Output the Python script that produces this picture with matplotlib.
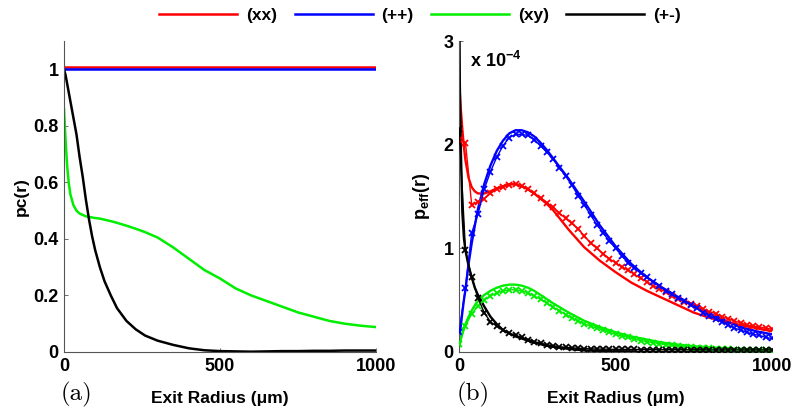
import matplotlib
matplotlib.use("Agg")
import matplotlib.pyplot as plt

plt.rcParams["font.family"] = ["Liberation Sans", "DejaVu Sans"]
plt.rcParams["font.weight"] = "bold"
plt.rcParams["mathtext.fontset"] = "custom"
plt.rcParams["mathtext.rm"] = "Liberation Sans:bold"
plt.rcParams["mathtext.bf"] = "Liberation Sans:bold"
plt.rcParams["mathtext.it"] = "Liberation Sans:bold"

# ── (a) pc(r) ────────────────────────────────────────────────────────────────
r_pc = [0, 5, 10, 15, 20, 30, 40, 50, 60, 70, 80, 90, 100, 115, 130, 150, 170,
        200, 230, 260, 300, 350, 400, 450, 500, 550, 600, 650, 700, 750, 800,
        850, 900, 950, 1000]
pc_xx = [1.007] * len(r_pc)
pc_pp = [1.0] * len(r_pc)
pc_xy = [0.86, 0.75, 0.66, 0.60, 0.56, 0.52, 0.50, 0.49, 0.485, 0.48, 0.478,
         0.476, 0.474, 0.472, 0.468, 0.463, 0.457, 0.447, 0.436, 0.424, 0.405,
         0.37, 0.33, 0.29, 0.26, 0.225, 0.20, 0.18, 0.16, 0.14, 0.125, 0.11,
         0.10, 0.093, 0.088]
pc_pm = [1.0, 0.98, 0.95, 0.92, 0.89, 0.83, 0.77, 0.69, 0.62, 0.54, 0.47, 0.41,
         0.36, 0.30, 0.25, 0.20, 0.155, 0.11, 0.08, 0.058, 0.04, 0.025, 0.013,
         0.006, 0.003, 0.002, 0.001, 0.002, 0.003, 0.003, 0.004, 0.004, 0.005,
         0.005, 0.005]

# ── (b) p_eff(r), in units of 1e-4 ──────────────────────────────────────────
r_fit = [0, 2, 5, 10, 15, 20, 30, 40, 50, 60, 80, 100, 120, 140, 160, 180, 200,
         220, 240, 260, 280, 300, 350, 400, 450, 500, 550, 600, 650, 700, 750,
         800, 850, 900, 950, 1000]
fit_xx = [2.55, 2.50, 2.35, 2.15, 1.98, 1.85, 1.68, 1.59, 1.55, 1.53, 1.53,
          1.55, 1.58, 1.60, 1.62, 1.62, 1.60, 1.57, 1.53, 1.48, 1.43, 1.37,
          1.18, 1.01, 0.88, 0.77, 0.67, 0.59, 0.52, 0.45, 0.38, 0.33, 0.29,
          0.26, 0.23, 0.20]
fit_pp = [0.15, 0.19, 0.25, 0.38, 0.50, 0.60, 0.85, 1.05, 1.22, 1.38, 1.62,
          1.80, 1.94, 2.04, 2.11, 2.14, 2.14, 2.12, 2.08, 2.02, 1.95, 1.87,
          1.67, 1.45, 1.22, 1.02, 0.85, 0.72, 0.62, 0.53, 0.45, 0.37, 0.30,
          0.24, 0.20, 0.17]
fit_xy = [0.05, 0.08, 0.12, 0.18, 0.23, 0.27, 0.34, 0.40, 0.45, 0.49, 0.55,
          0.59, 0.62, 0.64, 0.65, 0.65, 0.64, 0.62, 0.59, 0.55, 0.51, 0.47,
          0.38, 0.30, 0.24, 0.19, 0.15, 0.12, 0.09, 0.07, 0.055, 0.045, 0.035,
          0.03, 0.025, 0.02]
fit_pm = [3.6, 2.6, 2.0, 1.35, 1.1, 0.98, 0.83, 0.72, 0.62, 0.55, 0.44, 0.34,
          0.27, 0.21, 0.18, 0.15, 0.13, 0.11, 0.09, 0.075, 0.06, 0.05, 0.03,
          0.015, 0.01, 0.005, 0.002, 0.0, 0.0, 0.0, 0.0, 0.0, 0.0, 0.0, 0.0,
          0.0]

r_sim = [0, 20, 40, 60, 80, 100, 120, 140, 160, 180, 200, 220, 240, 260, 280,
         300, 320, 340, 360, 380, 400, 420, 440, 460, 480, 500, 520, 540, 560,
         580, 600, 620, 640, 660, 680, 700, 720, 740, 760, 780, 800, 820, 840,
         860, 880, 900, 920, 940, 960, 980, 1000]
sim_xx = [2.05, 2.02, 1.42, 1.45, 1.48, 1.53, 1.57, 1.59, 1.61, 1.62, 1.60,
          1.57, 1.53, 1.49, 1.44, 1.40, 1.34, 1.29, 1.24, 1.19, 1.12, 1.05,
          1.00, 0.95, 0.90, 0.86, 0.82, 0.79, 0.75, 0.71, 0.68, 0.64, 0.61,
          0.58, 0.54, 0.51, 0.48, 0.46, 0.44, 0.41, 0.39, 0.37, 0.34, 0.32,
          0.30, 0.28, 0.26, 0.25, 0.24, 0.23, 0.22]
sim_pp = [0.19, 0.62, 1.15, 1.33, 1.57, 1.74, 1.88, 1.99, 2.07, 2.10, 2.10,
          2.09, 2.05, 1.99, 1.93, 1.86, 1.78, 1.70, 1.61, 1.51, 1.42, 1.32,
          1.23, 1.15, 1.07, 1.00, 0.93, 0.86, 0.81, 0.76, 0.72, 0.68, 0.64,
          0.59, 0.56, 0.52, 0.49, 0.45, 0.42, 0.38, 0.35, 0.32, 0.29, 0.26,
          0.23, 0.21, 0.19, 0.17, 0.16, 0.14, 0.13]
sim_xy = [0.08, 0.25, 0.37, 0.44, 0.50, 0.54, 0.57, 0.59, 0.60, 0.60, 0.59,
          0.57, 0.54, 0.51, 0.47, 0.43, 0.40, 0.36, 0.33, 0.30, 0.27, 0.25,
          0.23, 0.21, 0.19, 0.17, 0.155, 0.14, 0.125, 0.11, 0.10, 0.09, 0.08,
          0.07, 0.065, 0.058, 0.052, 0.047, 0.042, 0.038, 0.034, 0.031, 0.028,
          0.025, 0.023, 0.021, 0.019, 0.018, 0.016, 0.015, 0.014]
sim_pm = [2.15, 0.98, 0.72, 0.52, 0.38, 0.29, 0.25, 0.21, 0.18, 0.16, 0.14,
          0.12, 0.10, 0.085, 0.07, 0.06, 0.05, 0.045, 0.04, 0.035, 0.032,
          0.03, 0.028, 0.027, 0.026, 0.025, 0.025, 0.024, 0.024, 0.023, 0.023,
          0.023, 0.022, 0.022, 0.022, 0.022, 0.021, 0.021, 0.021, 0.021, 0.02,
          0.02, 0.02, 0.02, 0.02, 0.02, 0.02, 0.02, 0.02, 0.02, 0.02]

x_ticks = [0, 500, 1000]
x_ticklabels = ["0", "500", "1000"]
a_yticks = [0, 0.2, 0.4, 0.6, 0.8, 1]
a_yticklabels = ["0", "0.2", "0.4", "0.6", "0.8", "1"]
b_yticks = [0, 1, 2, 3]
b_yticklabels = ["0", "1", "2", "3"]

labels = ["(xx)", "(++)", "(xy)", "(+-)"]
colors = ["#ff0000", "#0000ff", "#00ee00", "#000000"]

fig = plt.figure(figsize=(8, 4.2), dpi=100)
ax_a = fig.add_axes([0.080, 0.162, 0.390, 0.740])
ax_b = fig.add_axes([0.574, 0.162, 0.391, 0.740])

handles = []
for ys, c, lab in zip([pc_xx, pc_pp, pc_xy, pc_pm], colors, labels):
    h, = ax_a.plot(r_pc, ys, color=c, lw=1.8, label=lab)
    handles.append(h)

for fit, sim, c in zip([fit_xx, fit_pp, fit_xy, fit_pm],
                       [sim_xx, sim_pp, sim_xy, sim_pm], colors):
    ax_b.plot(r_fit, fit, color=c, lw=1.7, zorder=2)
    ax_b.plot(r_sim, sim, color=c, lw=1.0, marker="x", ms=5, mew=1.3, zorder=3)

tick_font = dict(fontsize=13, fontweight="bold", family="Liberation Sans")

ax_a.set_xlim(0, 1000)
ax_a.set_ylim(0, 1.1)
ax_a.set_yticks(a_yticks, labels=a_yticklabels, **tick_font)
ax_a.set_ylabel("pc(r)", fontsize=12.5, fontweight="bold", labelpad=3)

ax_b.set_xlim(0, 1000)
ax_b.set_ylim(0, 3)
ax_b.set_yticks(b_yticks, labels=b_yticklabels, **tick_font)
ax_b.set_ylabel(r"$\mathbf{p_{eff}(r)}$", fontsize=13, labelpad=8)
ax_b.text(0.035, 0.97, r"$\mathbf{x\ 10^{-4}}$", transform=ax_b.transAxes,
          ha="left", va="top", fontsize=13)

for ax in (ax_a, ax_b):
    ax.set_xticks(x_ticks, labels=x_ticklabels, **tick_font)
    ax.set_xlabel("Exit Radius (\u03bcm)", fontsize=12.5, fontweight="bold",
                  labelpad=12)
    ax.spines["top"].set_visible(False)
    ax.spines["right"].set_visible(False)
    for s in ("left", "bottom"):
        ax.spines[s].set_color("#555555")
        ax.spines[s].set_linewidth(0.8)
    ax.tick_params(direction="in", length=3, width=0.6,
                   colors="#555555", labelcolor="black", pad=4)

fig.text(0.076, 0.062, "(a)", family="cmr10", fontsize=18, ha="left",
         va="center")
fig.text(0.571, 0.062, "(b)", family="cmr10", fontsize=18, ha="left",
         va="center")

fig.legend(handles=handles, loc="center", ncol=4, frameon=False,
           bbox_to_anchor=(0.525, 0.964), fontsize=12.5, handlelength=4.5,
           handletextpad=0.5, columnspacing=1.0, borderaxespad=0)

fig.savefig("out.png", dpi=100)
